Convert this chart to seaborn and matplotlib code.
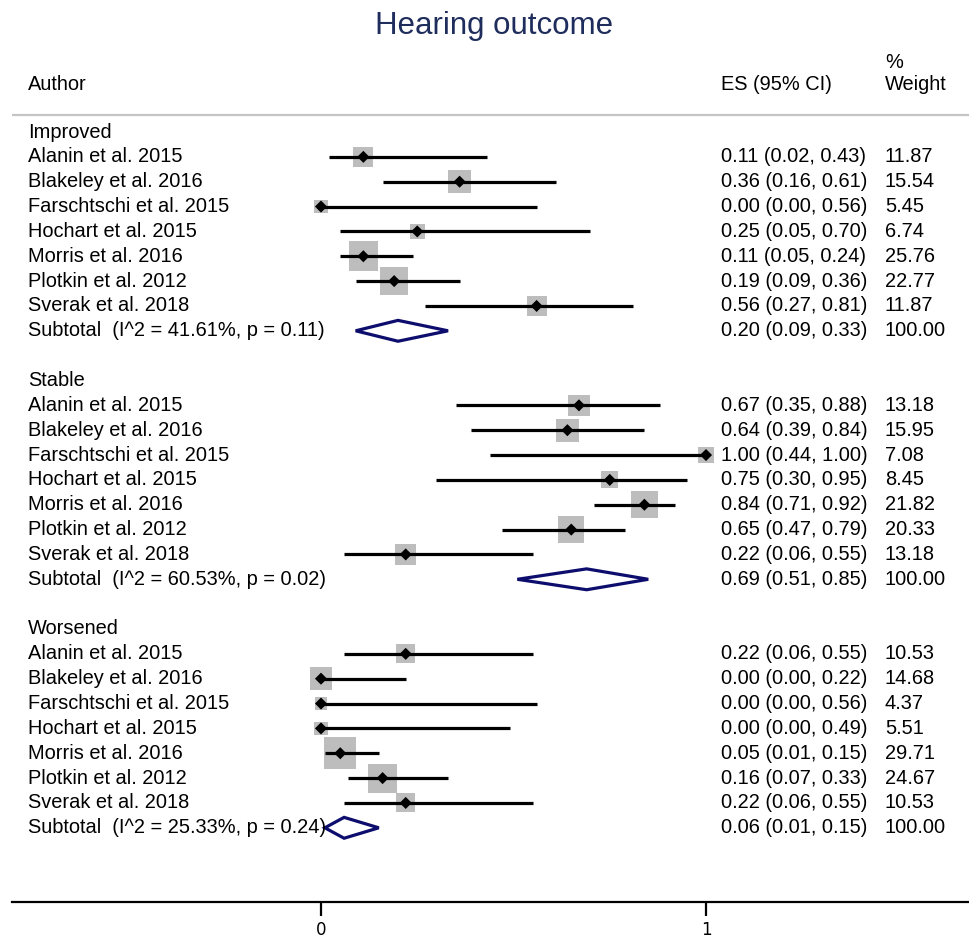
import numpy as np
import pandas as pd
import matplotlib
matplotlib.use("Agg")
import matplotlib.pyplot as plt
import seaborn as sns
from matplotlib.patches import Polygon

# data
groups = ["Improved", "Stable", "Worsened"]
authors = [
    "Alanin et al. 2015",
    "Blakeley et al. 2016",
    "Farschtschi et al. 2015",
    "Hochart et al. 2015",
    "Morris et al. 2016",
    "Plotkin et al. 2012",
    "Sverak et al. 2018",
]
es = {
    "Improved": [0.11, 0.36, 0.00, 0.25, 0.11, 0.19, 0.56],
    "Stable": [0.67, 0.64, 1.00, 0.75, 0.84, 0.65, 0.22],
    "Worsened": [0.22, 0.00, 0.00, 0.00, 0.05, 0.16, 0.22],
}
ci_low = {
    "Improved": [0.02, 0.16, 0.00, 0.05, 0.05, 0.09, 0.27],
    "Stable": [0.35, 0.39, 0.44, 0.30, 0.71, 0.47, 0.06],
    "Worsened": [0.06, 0.00, 0.00, 0.00, 0.01, 0.07, 0.06],
}
ci_high = {
    "Improved": [0.43, 0.61, 0.56, 0.70, 0.24, 0.36, 0.81],
    "Stable": [0.88, 0.84, 1.00, 0.95, 0.92, 0.79, 0.55],
    "Worsened": [0.55, 0.22, 0.56, 0.49, 0.15, 0.33, 0.55],
}
weights = {
    "Improved": [11.87, 15.54, 5.45, 6.74, 25.76, 22.77, 11.87],
    "Stable": [13.18, 15.95, 7.08, 8.45, 21.82, 20.33, 13.18],
    "Worsened": [10.53, 14.68, 4.37, 5.51, 29.71, 24.67, 10.53],
}
sub_es = [0.20, 0.69, 0.06]
sub_low = [0.09, 0.51, 0.01]
sub_high = [0.33, 0.85, 0.15]
sub_i2 = [41.61, 60.53, 25.33]
sub_p = [0.11, 0.02, 0.24]

# build a long table, one row per study line
rows = []
subs = []
r = 0
for g_i, g in enumerate(groups):
    header_row = r
    r += 1
    for a_i, a in enumerate(authors):
        rows.append({"group": g, "author": a, "row": r,
                     "es": es[g][a_i], "lo": ci_low[g][a_i],
                     "hi": ci_high[g][a_i], "w": weights[g][a_i]})
        r += 1
    subs.append({"group": g, "header": header_row, "row": r,
                 "es": sub_es[g_i], "lo": sub_low[g_i], "hi": sub_high[g_i],
                 "i2": sub_i2[g_i], "p": sub_p[g_i]})
    r += 2
df = pd.DataFrame(rows)
sub_df = pd.DataFrame(subs)

sns.set_style("white")
plt.rcParams["font.family"] = ["Liberation Sans", "DejaVu Sans"]
plt.rcParams["text.color"] = "black"
plt.rcParams["xtick.color"] = "black"

W, H = 970, 939
px0, px_unit = 321, 385          # pixel of x=0, pixels per unit
row0, row_h = 132, 24.85         # pixel of first row, pixels per row

fig = plt.figure(figsize=(W / 100, H / 100), dpi=100)
ax = fig.add_axes([0, 0, 1, 1])
xmin, xmax = -px0 / px_unit, (W - px0) / px_unit
ax.set_xlim(xmin, xmax)
ax.set_ylim((H - row0) / row_h, -row0 / row_h)


def xpx(p):
    return (p - px0) / px_unit


def ypx(p):
    return (p - row0) / row_h


# weight squares: area proportional to weight
k = (5.85 * 0.72) ** 2
wmin, wmax = df["w"].min(), df["w"].max()
sns.scatterplot(data=df, x="es", y="row", size="w", sizes=(k * wmin, k * wmax),
                size_norm=(wmin, wmax), marker="s", color="#bdbdbd",
                edgecolor="none", legend=False, ax=ax, zorder=2)
ax.hlines(df["row"], df["lo"], df["hi"], color="black", lw=2.3, zorder=3)
sns.scatterplot(data=df, x="es", y="row", marker="D", s=38, color="black",
                edgecolor="none", legend=False, ax=ax, zorder=4)

# subtotal diamonds
for _, s in sub_df.iterrows():
    dh = 0.42
    poly = Polygon([[s["lo"], s["row"]], [s["es"], s["row"] - dh],
                    [s["hi"], s["row"]], [s["es"], s["row"] + dh]],
                   closed=True, fill=False, edgecolor="#0d0d6e", lw=2.3,
                   zorder=5)
    ax.add_patch(poly)

# text columns
fs = 14.4
x_auth, x_es, x_w = xpx(28), xpx(721), xpx(885)
for _, s in sub_df.iterrows():
    ax.text(x_auth, s["header"], s["group"], fontsize=fs, va="center")
    ax.text(x_auth, s["row"],
            f"Subtotal  (I^2 = {s['i2']:.2f}%, p = {s['p']:.2f})",
            fontsize=fs, va="center", zorder=6)
    ax.text(x_es, s["row"], f"{s['es']:.2f} ({s['lo']:.2f}, {s['hi']:.2f})",
            fontsize=fs, va="center")
    ax.text(x_w, s["row"], "100.00", fontsize=fs, va="center")
for _, d in df.iterrows():
    ax.text(x_auth, d["row"], d["author"], fontsize=fs, va="center")
    ax.text(x_es, d["row"], f"{d['es']:.2f} ({d['lo']:.2f}, {d['hi']:.2f})",
            fontsize=fs, va="center")
    ax.text(x_w, d["row"], f"{d['w']:.2f}", fontsize=fs, va="center")

ax.text(x_auth, ypx(84), "Author", fontsize=fs, va="center")
ax.text(x_es, ypx(84), "ES (95% CI)", fontsize=fs, va="center")
ax.text(x_w, ypx(84), "Weight", fontsize=fs, va="center")
ax.text(x_w, ypx(62), "%", fontsize=fs, va="center")
ax.hlines(ypx(114.5), xpx(12), xmax, color="#c4c4c4", lw=1.6)

fig.text(494.5 / W, 1 - 26 / H, "Hearing outcome", fontsize=22.5,
         color="#1f2d5c", ha="center", va="center")

# x axis
for sp in ["top", "left", "right"]:
    ax.spines[sp].set_visible(False)
ax.spines["bottom"].set_position(("data", ypx(902.5)))
ax.spines["bottom"].set_bounds(xpx(12), xmax)
ax.spines["bottom"].set_linewidth(1.6)
ax.spines["bottom"].set_color("black")
ax.set_xticks([0, 1])
ax.set_xticklabels(["0", "1"], family="DejaVu Sans")
ax.tick_params(axis="x", direction="out", length=10, width=1.6,
               labelsize=12, pad=3, bottom=True)
ax.set_yticks([])
ax.set_xlabel("")
ax.set_ylabel("")

fig.savefig("out.png", dpi=100)
